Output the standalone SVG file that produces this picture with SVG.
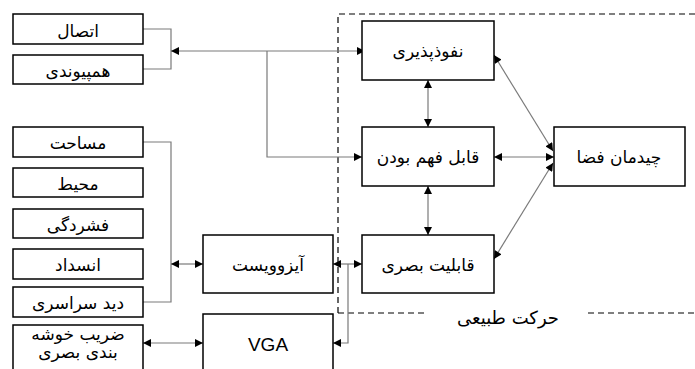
<svg xmlns="http://www.w3.org/2000/svg" width="695" height="369" viewBox="0 0 695 369">
<style>
.box{fill:#fff;stroke:#000;stroke-width:1.5}
.t{font-family:"DejaVu Sans","Noto Sans",sans-serif;font-size:17px;fill:#000;text-anchor:middle;direction:rtl}
.en{font-family:"Liberation Sans","DejaVu Sans",sans-serif;font-size:19px;fill:#000;text-anchor:middle}
.c{fill:none;stroke:#7a7a7a;stroke-width:1.2}
.dash{fill:none;stroke:#000;stroke-width:1.2;stroke-dasharray:6,4}
</style>
<defs>
<marker id="ah" viewBox="0 0 10 10" refX="10" refY="5" markerWidth="9" markerHeight="8" markerUnits="userSpaceOnUse" orient="auto-start-reverse">
<path d="M0,0 L10,5 L0,10 Z" fill="#000"/>
</marker>
</defs>
<rect width="695" height="369" fill="#fff"/>
<g id="boundary">
<path class="dash" d="M338,313 L338,14 L695,14"/>
<path class="dash" d="M338,313 L425,313"/>
<path class="dash" d="M588,313 L695,313"/>
<text class="t" x="508" y="324" style="font-size:18px">حرکت طبیعی</text>
</g>
<g id="connectors">
<path class="c" d="M143,29 L171,29 L171,69 L143,69"/>
<path class="c" d="M171,51 L365,51" marker-start="url(#ah)" marker-end="url(#ah)"/>
<path class="c" d="M267,51 L267,157 L362,157" marker-end="url(#ah)"/>
<path class="c" d="M428,80 L428,127" marker-start="url(#ah)" marker-end="url(#ah)"/>
<path class="c" d="M428,186 L428,235" marker-start="url(#ah)" marker-end="url(#ah)"/>
<path class="c" d="M494,157 L554,157" marker-start="url(#ah)" marker-end="url(#ah)"/>
<path class="c" d="M494,55 L553,151" marker-start="url(#ah)" marker-end="url(#ah)"/>
<path class="c" d="M494,259 L553,163" marker-start="url(#ah)" marker-end="url(#ah)"/>
<path class="c" d="M143,142 L171,142 L171,302 L143,302"/>
<path class="c" d="M171,264 L203,264" marker-start="url(#ah)" marker-end="url(#ah)"/>
<path class="c" d="M143,343 L203,343" marker-start="url(#ah)" marker-end="url(#ah)"/>
<path class="c" d="M333,264 L362,264" marker-start="url(#ah)" marker-end="url(#ah)"/>
<path class="c" d="M348,264 L348,343 L333,343" marker-end="url(#ah)"/>
</g>
<g id="n-etesal"><rect class="box" x="13" y="14" width="130" height="30"/><text class="t" x="78" y="37">اتصال</text></g>
<g id="n-hampeyvandi"><rect class="box" x="13" y="55" width="130" height="29"/><text class="t" x="78" y="77">همپیوندی</text></g>
<g id="n-masahat"><rect class="box" x="13" y="127" width="130" height="30"/><text class="t" x="78" y="149">مساحت</text></g>
<g id="n-mohit"><rect class="box" x="13" y="168" width="130" height="29"/><text class="t" x="78" y="190">محیط</text></g>
<g id="n-feshordegi"><rect class="box" x="13" y="209" width="130" height="29"/><text class="t" x="78" y="231">فشردگی</text></g>
<g id="n-ensedad"><rect class="box" x="13" y="249" width="130" height="30"/><text class="t" x="78" y="271">انسداد</text></g>
<g id="n-did"><rect class="box" x="13" y="287" width="130" height="30"/><text class="t" x="78" y="309">دید سراسری</text></g>
<g id="n-zarib"><rect class="box" x="13" y="325" width="130" height="50"/><text class="t" x="78" y="340">ضریب خوشه</text><text class="t" x="78" y="358">بندی بصری</text></g>
<g id="n-isovist"><rect class="box" x="203" y="235" width="130" height="58"/><text class="t" x="268" y="271">آیزوویست</text></g>
<g id="n-vga"><rect class="box" x="203" y="314" width="130" height="60"/><text class="en" x="268" y="351">VGA</text></g>
<g id="n-nofuz"><rect class="box" x="362" y="21" width="132" height="59"/><text class="t" x="428" y="57">نفوذپذیری</text></g>
<g id="n-fahm"><rect class="box" x="362" y="127" width="132" height="59"/><text class="t" x="428" y="163">قابل فهم بودن</text></g>
<g id="n-basari"><rect class="box" x="362" y="235" width="132" height="58"/><text class="t" x="428" y="271">قابلیت بصری</text></g>
<g id="n-chideman"><rect class="box" x="554" y="127" width="131" height="59"/><text class="t" x="619" y="163">چیدمان فضا</text></g>
</svg>
